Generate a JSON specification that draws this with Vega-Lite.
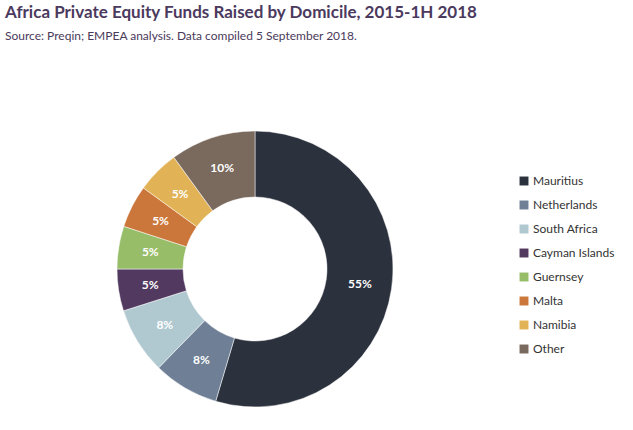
{
  "$schema": "https://vega.github.io/schema/vega-lite/v6.json",
  "width": 500,
  "height": 328,
  "padding": {"left": 5, "top": 4, "right": 0, "bottom": 0},
  "background": "white",
  "title": {
    "text": "Africa Private Equity Funds Raised by Domicile, 2015-1H 2018",
    "subtitle": "Source: Preqin; EMPEA analysis. Data compiled 5 September 2018.",
    "anchor": "start",
    "frame": "group",
    "font": "Lato",
    "fontSize": 17,
    "fontWeight": "bold",
    "color": "#4b3a5e",
    "subtitleFont": "Lato",
    "subtitleFontSize": 12,
    "subtitleColor": "#4a3a5a",
    "subtitlePadding": 9,
    "offset": 62
  },
  "data": {
    "values": [
      {"domicile": "Mauritius", "share": 54.6, "label": "55%", "idx": 1},
      {"domicile": "Netherlands", "share": 7.7, "label": "8%", "idx": 2},
      {"domicile": "South Africa", "share": 7.8, "label": "8%", "idx": 3},
      {"domicile": "Cayman Islands", "share": 4.9, "label": "5%", "idx": 4},
      {"domicile": "Guernsey", "share": 5.0, "label": "5%", "idx": 5},
      {"domicile": "Malta", "share": 5.0, "label": "5%", "idx": 6},
      {"domicile": "Namibia", "share": 5.0, "label": "5%", "idx": 7},
      {"domicile": "Other", "share": 10.0, "label": "10%", "idx": 8}
    ]
  },
  "encoding": {
    "theta": {"field": "share", "type": "quantitative", "stack": true},
    "order": {"field": "idx", "type": "quantitative"},
    "color": {
      "field": "domicile",
      "type": "nominal",
      "sort": ["Mauritius", "Netherlands", "South Africa", "Cayman Islands", "Guernsey", "Malta", "Namibia", "Other"],
      "scale": {
        "domain": ["Mauritius", "Netherlands", "South Africa", "Cayman Islands", "Guernsey", "Malta", "Namibia", "Other"],
        "range": ["#2b313d", "#6e7f96", "#b0c8d0", "#51395f", "#98bd68", "#cb773c", "#e2b356", "#7a6a5e"]
      },
      "legend": {
        "title": null,
        "orient": "none",
        "legendX": 513,
        "legendY": 70,
        "symbolType": "square",
        "symbolSize": 80,
        "symbolStrokeWidth": 0,
        "labelFont": "Lato",
        "labelFontSize": 12,
        "labelColor": "#333333",
        "rowPadding": 12,
        "labelOffset": 3
      }
    }
  },
  "layer": [
    {
      "mark": {"type": "arc", "outerRadius": 138, "innerRadius": 72, "stroke": "white", "strokeWidth": 0.5}
    },
    {
      "mark": {"type": "text", "radius": 106, "font": "Lato", "fontSize": 12, "fontWeight": "bold", "fill": "white"},
      "encoding": {
        "text": {"field": "label"},
        "color": {"value": "white"}
      }
    }
  ],
  "config": {"view": {"stroke": null}}
}
